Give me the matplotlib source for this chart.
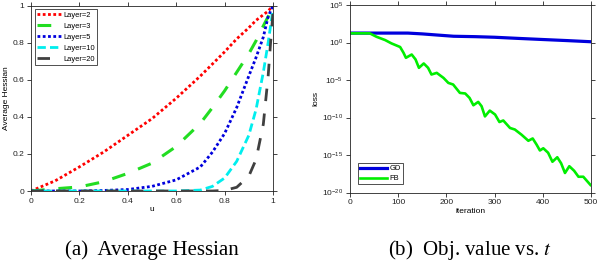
import matplotlib
matplotlib.use("Agg")
import matplotlib.pyplot as plt
from matplotlib.ticker import FixedLocator, NullLocator

plt.rcParams['font.family'] = ['Liberation Sans', 'DejaVu Sans']
plt.rcParams['mathtext.fontset'] = 'stix'

# ---------------- data: left panel ----------------
u = [0, 0.1, 0.2, 0.3, 0.4, 0.5, 0.6, 0.7, 0.75, 0.8, 0.85, 0.9, 0.93, 0.96, 0.98, 0.99, 1.0]
layer2 = [0, 0.055, 0.13, 0.21, 0.30, 0.39, 0.50, 0.62, 0.685, 0.75, 0.82, 0.88, 0.92, 0.95, 0.97, 0.985, 1.0]
layer3 = [0, 0.012, 0.022, 0.05, 0.095, 0.15, 0.24, 0.365, 0.45, 0.54, 0.64, 0.74, 0.81, 0.89, 0.94, 0.97, 1.0]
layer5 = [0, 0, 0, 0.003, 0.008, 0.025, 0.06, 0.13, 0.21, 0.31, 0.45, 0.62, 0.72, 0.83, 0.94, 0.97, 1.0]
layer10 = [0, 0, 0, 0, 0, 0, 0, 0.005, 0.025, 0.07, 0.16, 0.30, 0.44, 0.64, 0.80, 0.89, 0.98]
layer20 = [0, 0, 0, 0, 0, 0, 0, 0, 0, 0.003, 0.02, 0.08, 0.17, 0.36, 0.62, 0.80, 0.96]
layer_labels = ['Layer=2', 'Layer=3', 'Layer=5', 'Layer=10', 'Layer=20']

# ---------------- data: right panel ----------------
gd_iter = [0, 120, 150, 180, 215, 260, 300, 350, 400, 450, 500]
gd_loss = [1.8e1, 1.8e1, 1.4e1, 1.0e1, 6.8e0, 6.0e0, 5.0e0, 3.5e0, 2.5e0, 1.8e0, 1.26e0]

fb_iter = [0, 41, 55, 73, 86, 104, 111, 116, 128, 136, 143, 153, 162, 169, 180, 194,
           204, 214, 228, 239, 248, 256, 266, 273, 280, 290, 301, 310, 318, 332, 342,
           356, 370, 379, 387, 394, 401, 411, 420, 430, 438, 446, 455, 465, 474, 484, 499]
fb_loss = [1.66e1, 1.66e1, 5.8e0, 2.1e0, 7.6e-1, 2.5e-1, 4.3e-2, 9.1e-3, 2.5e-2, 5.5e-3,
           4.2e-4, 1.6e-3, 4.2e-4, 5.4e-5, 8.9e-5, 1.9e-5, 4.1e-6, 2.5e-6, 1.9e-7, 1.6e-7,
           4.1e-8, 4.3e-9, 1.2e-8, 3.2e-9, 1.4e-10, 8.3e-10, 2.5e-10, 2.5e-11, 4.0e-11,
           4.0e-12, 2.5e-12, 5.0e-13, 7.9e-14, 1.6e-13, 2.5e-14, 4.0e-15, 7.9e-15, 2.0e-15,
           1.26e-16, 5.0e-16, 7.9e-17, 4.0e-18, 3.2e-17, 7.9e-18, 1.26e-18, 1.26e-18, 1.0e-19]

fig = plt.figure(figsize=(5.98, 2.62), dpi=100)

tick_fs = 6
lab_fs = 6

# ---------------- left axes ----------------
ax1 = fig.add_axes([31/598, 1-191/262, 242/598, 185.5/262])
styles = [
    dict(color='#ff0000', linestyle=(0, (1, 0.9)), lw=2.0),
    dict(color='#22dd22', linestyle=(0, (4.5, 4.5)), lw=2.2),
    dict(color='#0000dd', linestyle=(0, (1, 0.9)), lw=2.0),
    dict(color='#00eeee', linestyle=(0, (3, 1.5)), lw=2.0),
    dict(color='#404040', linestyle=(0, (4.5, 4.5)), lw=2.0),
]
for ys, lab, st in zip([layer2, layer3, layer5, layer10, layer20], layer_labels, styles):
    ax1.plot(u, ys, label=lab, **st)
ax1.set_xlim(0, 1)
ax1.set_ylim(0, 1)
ax1.set_xticks([0, 0.2, 0.4, 0.6, 0.8, 1])
ax1.set_xticklabels(['0', '0.2', '0.4', '0.6', '0.8', '1'])
ax1.set_yticks([0, 0.2, 0.4, 0.6, 0.8, 1])
ax1.set_yticklabels(['0', '0.2', '0.4', '0.6', '0.8', '1'])
ax1.set_xlabel('u', fontsize=lab_fs, labelpad=1)
ax1.set_ylabel('Average Hessian', fontsize=lab_fs, labelpad=2)
leg1 = ax1.legend(loc='upper left', fontsize=5.4, frameon=True, fancybox=False,
                  edgecolor='black', handlelength=3.2, handletextpad=0.3,
                  labelspacing=0.5, borderpad=0.3, borderaxespad=0.5)
leg1.get_frame().set_linewidth(0.6)

# ---------------- right axes ----------------
ax2 = fig.add_axes([350/598, 1-192.5/262, 241/598, 187.5/262])
ax2.plot(gd_iter, gd_loss, color='#0000dd', lw=2.3, label='GD')
ax2.plot(fb_iter, fb_loss, color='#00ee00', lw=1.9, label='FB')
ax2.set_yscale('log')
ax2.set_xlim(0, 500)
ax2.set_ylim(1e-20, 1e5)
ax2.set_xticks([0, 100, 200, 300, 400, 500])
ax2.yaxis.set_major_locator(FixedLocator([1e-20, 1e-15, 1e-10, 1e-5, 1e0, 1e5]))
ax2.yaxis.set_minor_locator(NullLocator())
ax2.set_xlabel('iteration', fontsize=lab_fs, labelpad=1)
ax2.set_ylabel('loss', fontsize=lab_fs, labelpad=2)
leg2 = ax2.legend(loc='lower left', fontsize=5.4, frameon=True, fancybox=False,
                  edgecolor='black', handlelength=3.6, handletextpad=0.3,
                  labelspacing=0.35, borderpad=0.25, borderaxespad=1.1)
leg2.get_frame().set_linewidth(0.6)

for ax in (ax1, ax2):
    ax.tick_params(direction='out', length=3, width=0.6, labelsize=tick_fs,
                   pad=2, colors='#222222', top=True, right=True)
    for sp in ax.spines.values():
        sp.set_linewidth(0.6)
        sp.set_color('#222222')

# ---------------- captions ----------------
fig.text(152/598, 1-255/262, '(a)  Average Hessian', fontsize=15,
         family='Liberation Serif', ha='center', va='baseline')
fig.text(470/598, 1-255/262, r'(b)  Obj. value vs. $t$', fontsize=15,
         family='Liberation Serif', ha='center', va='baseline')

fig.savefig('out.png', dpi=100)
